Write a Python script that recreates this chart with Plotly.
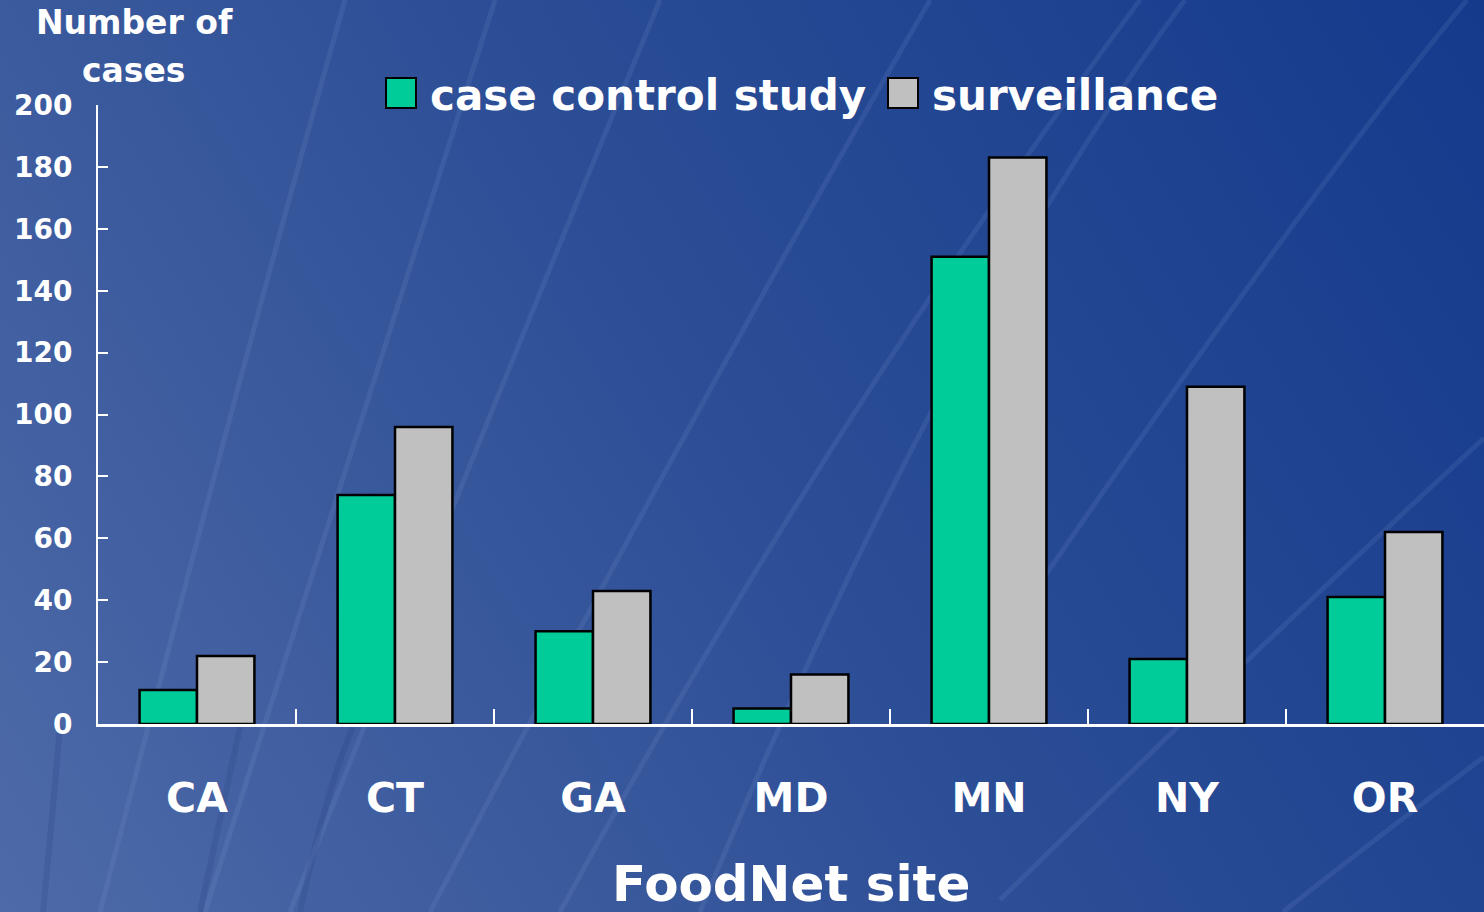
import base64
import plotly.graph_objects as go

# ---- data ----
sites = ["CA", "CT", "GA", "MD", "MN", "NY", "OR"]
case_control = [11, 74, 30, 5, 151, 21, 41]
surveillance = [22, 96, 43, 16, 183, 109, 62]
series_names = ["case control study", "surveillance"]
y_ticks = [0, 20, 40, 60, 80, 100, 120, 140, 160, 180, 200]

W, H = 1484, 912
L, R, T, B = 98, 0, 105, 188
PW, PH = W - L - R, H - T - B

def px(x):
    return (x - L) / PW

def py(y):
    return (H - B - y) / PH

# ---- decorative background (gradient + streaks) as SVG ----
light = [
    ((345, 0), (250, 333), (100, 912)),
    ((495, 0), (360, 420), (205, 912)),
    ((660, 0), (487, 420), (290, 912)),
    ((930, 0), (687, 420), (430, 912)),
    ((1140, 0), (827, 420), (560, 912)),
    ((1185, 0), (940, 330), (700, 912)),
    ((1467, 0), (1300, 200), (960, 700)),
    ((1484, 438), (1247, 657), (1000, 900)),
    ((1484, 757), (1380, 835), (1283, 912)),
]
dark = [
    ((60, 727), (52, 820), (43, 912)),
    ((240, 727), (220, 820), (200, 912)),
    ((353, 727), (327, 787), (300, 912)),
]
paths = []
for (a, b, c) in light:
    paths.append(f'<path d="M{a[0]},{a[1]} Q{b[0]},{b[1]} {c[0]},{c[1]}" stroke="#8fa8e0" stroke-opacity="0.13" stroke-width="5" fill="none"/>')
for (a, b, c) in dark:
    paths.append(f'<path d="M{a[0]},{a[1]} Q{b[0]},{b[1]} {c[0]},{c[1]}" stroke="#0d2566" stroke-opacity="0.12" stroke-width="6" fill="none"/>')
svg = f'''<svg xmlns="http://www.w3.org/2000/svg" width="{W}" height="{H}" viewBox="0 0 {W} {H}">
<defs><linearGradient id="g" gradientUnits="userSpaceOnUse" x1="{W}" y1="0" x2="0" y2="{H}">
<stop offset="0" stop-color="#153a8c"/><stop offset="0.5" stop-color="#2c4e96"/><stop offset="1" stop-color="#4e6aa8"/>
</linearGradient></defs>
<rect width="{W}" height="{H}" fill="url(#g)"/>
{''.join(paths)}
</svg>'''
bg_src = "data:image/svg+xml;base64," + base64.b64encode(svg.encode()).decode()

FONT = "DejaVu Sans"
colors = ["#00CC99", "#C0C0C0"]

fig = go.Figure()
fig.add_trace(go.Bar(x=sites, y=case_control, name=series_names[0],
                     marker=dict(color=colors[0], line=dict(color="black", width=2.5)),
                     showlegend=False))
fig.add_trace(go.Bar(x=sites, y=surveillance, name=series_names[1],
                     marker=dict(color=colors[1], line=dict(color="black", width=2.5)),
                     showlegend=False))

# custom legend (large boxes)
legend_items = [(386, 430), (888, 932)]
shapes = []
annotations = []
for (bx, tx), name, col in zip(legend_items, series_names, colors):
    shapes.append(dict(type="rect", xref="paper", yref="paper",
                       x0=px(bx), x1=px(bx + 30), y0=py(108), y1=py(78),
                       fillcolor=col, line=dict(color="black", width=2)))
    annotations.append(dict(text=f"<b>{name}</b>", xref="paper", yref="paper",
                            x=px(tx - 2), y=py(95), xanchor="left", yanchor="middle",
                            showarrow=False, font=dict(family=FONT, size=42, color="white")))

annotations += [
    dict(text="<b>Number of</b>", xref="paper", yref="paper", x=px(134), y=py(22),
         xanchor="center", yanchor="middle", showarrow=False,
         font=dict(family=FONT, size=33, color="white")),
    dict(text="<b>cases</b>", xref="paper", yref="paper", x=px(134), y=py(70),
         xanchor="center", yanchor="middle", showarrow=False,
         font=dict(family=FONT, size=33, color="white")),
    dict(text="<b>FoodNet site</b>", xref="paper", yref="paper", x=px(791), y=py(884),
         xanchor="center", yanchor="middle", showarrow=False,
         font=dict(family=FONT, size=50, color="white")),
]

fig.update_layout(
    width=W, height=H,
    margin=dict(l=L, r=R, t=T, b=B, autoexpand=False),
    paper_bgcolor="#2c4e96",
    plot_bgcolor="rgba(0,0,0,0)",
    barmode="group", bargap=0.42, bargroupgap=0,
    showlegend=False,
    shapes=shapes,
    annotations=annotations,
    images=[dict(source=bg_src, xref="paper", yref="paper",
                 x=-L / PW, y=1 + T / PH, sizex=W / PW, sizey=H / PH,
                 xanchor="left", yanchor="top", sizing="stretch", layer="below")],
    xaxis=dict(
        showline=True, linecolor="white", linewidth=3,
        ticks="inside", tickson="boundaries", ticklen=15, tickwidth=2, tickcolor="white",
        tickfont=dict(family=FONT, size=41, color="white", weight="bold"),
        ticklabelstandoff=36, showgrid=False, zeroline=False, fixedrange=True,
    ),
    yaxis=dict(
        range=[0, 200], tickvals=y_ticks,
        showline=True, linecolor="white", linewidth=2,
        ticks="inside", ticklen=10, tickwidth=2, tickcolor="white",
        tickfont=dict(family=FONT, size=28, color="white", weight="bold"),
        ticklabelstandoff=18, showgrid=False, zeroline=False, fixedrange=True,
    ),
)

fig.write_html("out.html", config={"displayModeBar": False},
               post_script="document.body.style.margin='0';document.body.style.overflow='hidden';")
